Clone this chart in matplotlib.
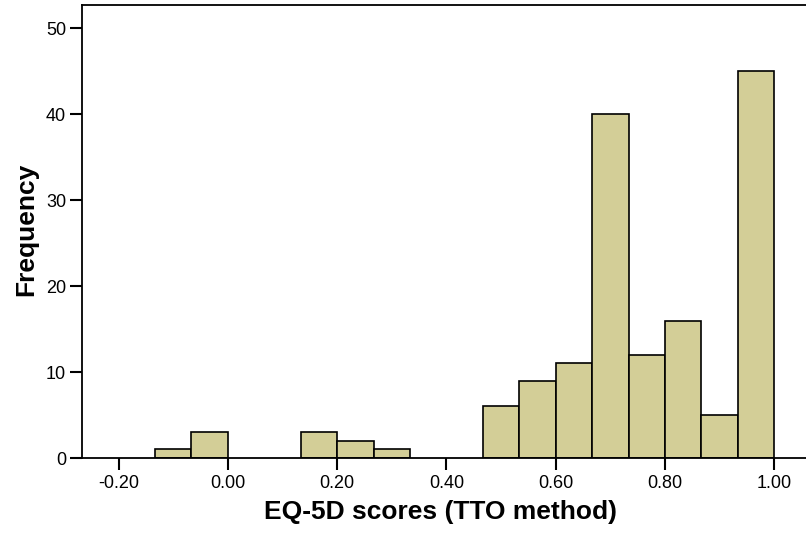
import matplotlib.pyplot as plt
import numpy as np

# histogram bins (width 1/15) and counts
bin_start = -2 / 15
bin_width = 1 / 15
counts = [1, 3, 0, 0, 3, 2, 1, 0, 0, 6, 9, 11, 40, 12, 16, 5, 45]
x_ticks = [-0.2, 0.0, 0.2, 0.4, 0.6, 0.8, 1.0]
y_ticks = [0, 10, 20, 30, 40, 50]

plt.rcParams['font.family'] = ['Liberation Sans', 'DejaVu Sans']

fig = plt.figure(figsize=(8.06, 5.37), dpi=100)
ax = fig.add_axes([0.1017, 0.147, 0.8983, 0.8437])

lefts = bin_start + np.arange(len(counts)) * bin_width
nz = [i for i, c in enumerate(counts) if c > 0]
ax.bar(lefts[nz], np.array(counts)[nz], width=bin_width, align='edge',
       color='#d3ce97', edgecolor='black', linewidth=1.2)

ax.set_xlim(-0.267, 1.058)
ax.set_ylim(0, 52.7)
ax.set_xticks(x_ticks)
ax.set_xticklabels([f"{t:.2f}" for t in x_ticks])
ax.set_yticks(y_ticks)

ax.spines['right'].set_visible(False)
for s in ['left', 'top', 'bottom']:
    ax.spines[s].set_linewidth(1.3)
ax.tick_params(direction='out', length=8.5, width=1.5, labelsize=13, pad=3)
ax.tick_params(axis='x', pad=4)

fig.text(441 / 806, 0.0466, 'EQ-5D scores (TTO method)', fontsize=19,
         fontweight='bold', ha='center', va='center')
fig.text(26 / 806, 0.5726, 'Frequency', fontsize=19, fontweight='bold',
         rotation=90, ha='center', va='center')

fig.savefig('out.png', dpi=100)
